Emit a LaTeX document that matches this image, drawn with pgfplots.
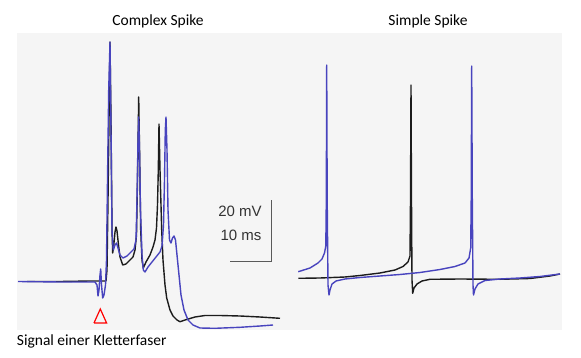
\documentclass[border=0pt]{standalone}
\usepackage{pgfplots}
\pgfplotsset{compat=1.18}
\usepackage{fontspec}
\setmainfont{Carlito}
\newfontfamily\helv{Liberation Sans}
\definecolor{bg}{RGB}{245,245,245}
\definecolor{tblue}{RGB}{72,68,190}
\definecolor{tblack}{RGB}{28,28,28}
\definecolor{sbar}{RGB}{90,90,90}
\begin{document}
\begin{tikzpicture}[x=1pt,y=1pt]
\path (0,0) rectangle (581,358);
\begin{axis}[
  at={(17pt,28pt)}, anchor=south west,
  width=545pt, height=297pt, scale only axis,
  xmin=17, xmax=562, ymin=33, ymax=330, y dir=reverse,
  axis line style={draw=none}, ticks=none,
  axis background/.style={fill=bg},
  clip=false,
  every axis plot/.append style={line width=1.4pt, line join=round, no marks},
]
% Complex spike - black
\addplot[tblack] coordinates {
(27,281.5) (60,281.5) (90,281) (106,281) (107,270) (108,200) (109,120) (110,42) (111,120) (112,230) (112.7,253) (113.5,248) (115,232) (116,227) (117,231) (118.5,245) (120,257) (122.7,265) (126,264) (130,260) (133,257) (135,250) (136.5,235) (137.5,180) (138.7,97) (139.7,160) (140.7,230) (142,260) (143.3,268) (146,262) (150,255) (153,247) (155,240) (156.5,228) (157.5,205) (158.3,170) (159,124) (160,170) (161.7,230) (163,260) (165,285) (166.7,298) (170,310) (173,316) (177,320) (180,321.7) (185,320) (195,317) (205,315.5) (220,315.5) (240,316) (260,317) (280,318.3)
};
% Complex spike - blue
\addplot[tblue] coordinates {
(18,281.5) (60,282) (95,282) (97,285) (98,296) (99,290) (100,275) (100.7,269) (101.5,285) (102.7,298) (104,295) (105.5,285) (106.5,260) (107.5,180) (108.7,90) (110,42) (111,130) (112,230) (113.3,250) (115,245) (116.5,243) (118,248) (120,255) (123,258) (127,256) (131,252) (134,249) (136,240) (137,200) (138,140) (138.7,117) (139.5,150) (140.5,210) (142,255) (143.3,270) (145,272) (148,267) (152,262) (156,257) (160,252) (162,246) (163.5,225) (164.5,180) (165.3,130) (166,117) (167,150) (168,210) (169.5,240) (171,243) (172.5,238) (174,236) (175.5,240) (177,255) (179,275) (181,295) (184,310) (188,320) (193,325) (200,328) (215,328.3) (240,327.3) (260,326) (273,325)
};
% Simple spike - black
\addplot[tblack] coordinates {
(298.3,278.3) (320,278) (345,277) (360,275.5) (380,273) (395,270) (403,266.5) (408,262) (410,256) (410.5,200) (411,85) (411.5,200) (412,280) (412.7,293.3) (414,288) (417,284) (422,281) (430,279.3) (460,279) (500,279.3) (530,278.5) (550,276) (560,274)
};
% Simple spike - blue
\addplot[tblue] coordinates {
(298.3,271.7) (310,268) (318,263) (322,259) (324.5,253) (325.8,246) (326.3,200) (326.7,65) (327.2,200) (328,285) (329,295) (330,290) (332,284) (336,281) (345,279) (360,277.5) (380,276) (400,274.5) (420,272.5) (440,269.5) (455,266.5) (465,263) (469,258) (470.7,248) (471.2,200) (471.7,66) (472.3,200) (473,285) (473.5,295) (475,289) (478,284) (485,280.5) (500,279) (520,278) (540,276.5) (560,274)
};
% Scale bar
\addplot[sbar, line width=1.2pt, line join=miter] coordinates {(230,261.7) (271.7,261.7) (271.7,200)};
% Stimulus marker
\addplot[red, line width=1.2pt, line join=miter] coordinates {(94,323) (100.3,309) (106.6,323) (94,323)};
\node[font=\helv\fontsize{15}{16}\selectfont, text=black!80, anchor=center] at (axis cs:240,211) {20 mV};
\node[font=\helv\fontsize{15}{16}\selectfont, text=black!80, anchor=center] at (axis cs:241,235) {10 ms};
\node[font=\fontsize{15.5}{17}\selectfont, anchor=base] at (axis cs:158,26) {Complex Spike};
\node[font=\fontsize{15.5}{17}\selectfont, anchor=base] at (axis cs:428,26) {Simple Spike};
\node[font=\fontsize{15.5}{17}\selectfont, anchor=base west, inner sep=0pt] at (axis cs:16.7,345.5) {Signal einer Kletterfaser};
\end{axis}
\end{tikzpicture}
\end{document}
